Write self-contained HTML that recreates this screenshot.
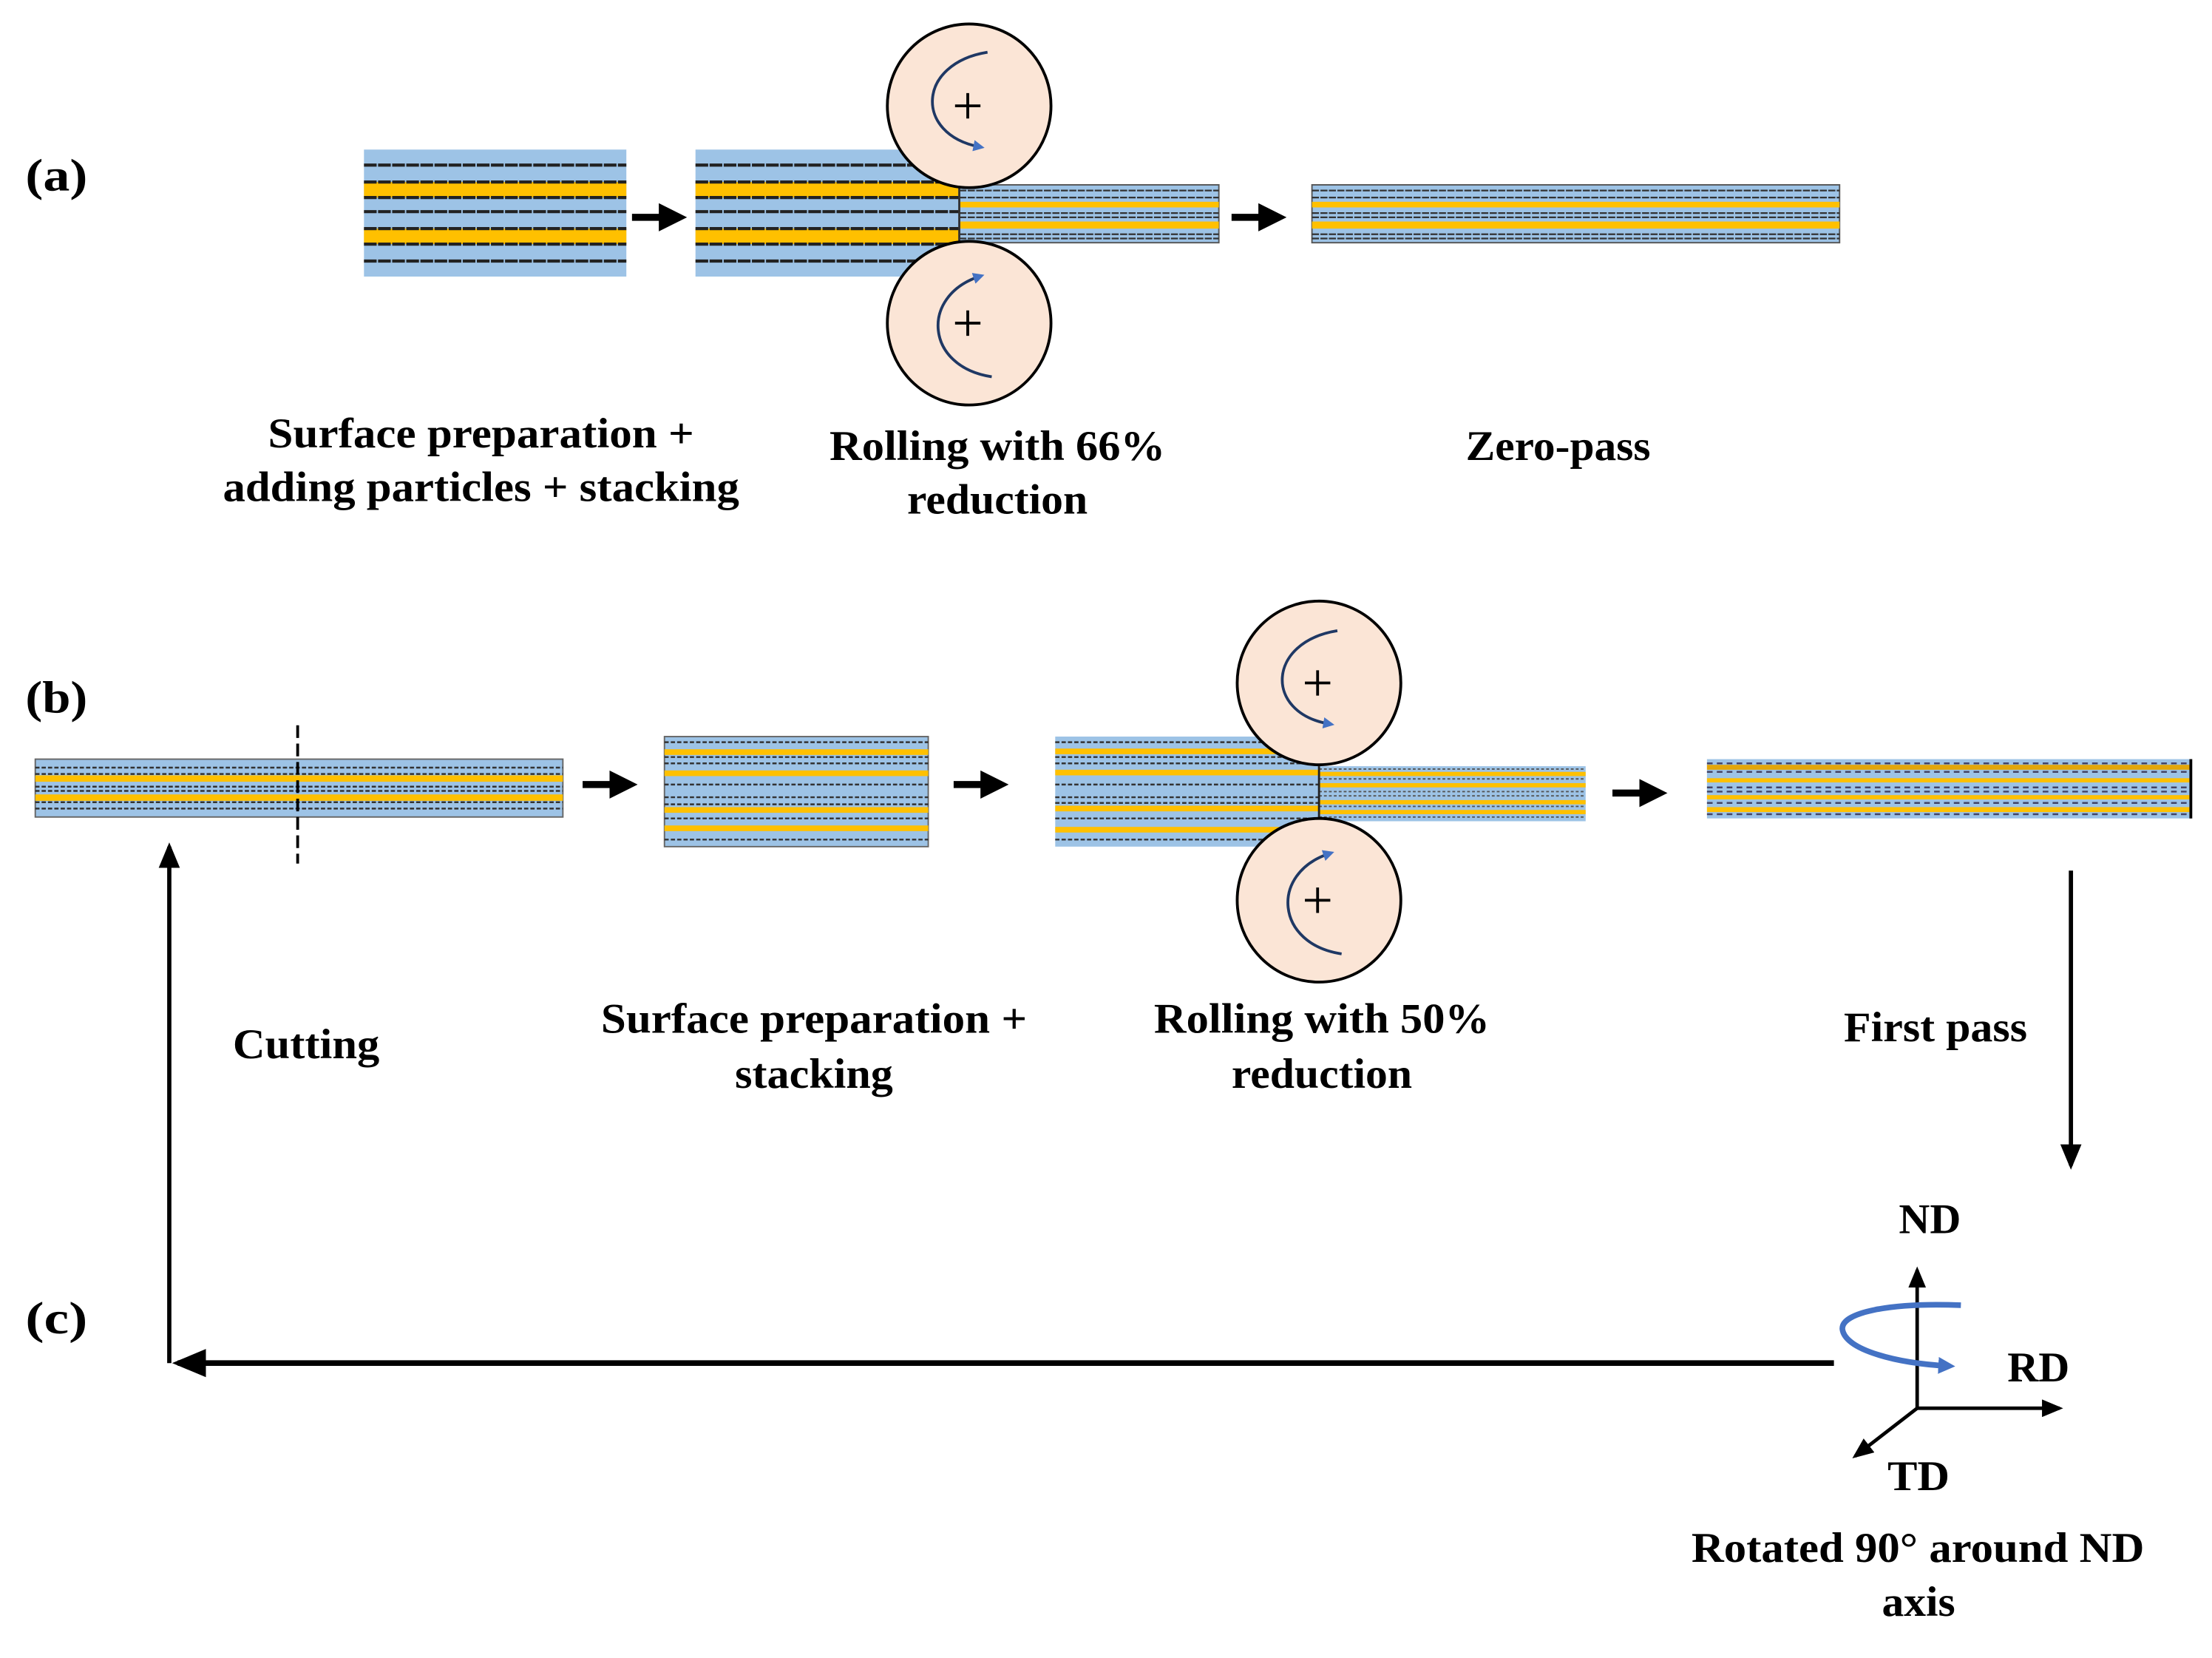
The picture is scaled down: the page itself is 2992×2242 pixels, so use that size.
<!DOCTYPE html>
<html><head><meta charset="utf-8"><style>
html,body{margin:0;padding:0;background:#fff;}
svg{display:block;}
text{font-family:"Liberation Serif","DejaVu Serif",serif;font-weight:bold;fill:#000;}
</style></head><body>
<svg width="2992" height="2242" viewBox="0 0 1568 1175" preserveAspectRatio="none" xmlns="http://www.w3.org/2000/svg">
<defs>
<marker id="ah" markerWidth="4" markerHeight="4" refX="3" refY="2" orient="auto" markerUnits="strokeWidth"><path d="M0,0 L4,2 L0,4 z" fill="#000"/></marker>
<marker id="ah2" markerWidth="6" markerHeight="5" refX="5" refY="2.5" orient="auto" markerUnits="strokeWidth"><path d="M0,0 L6,2.5 L0,5 z" fill="#000"/></marker>
<marker id="bh" markerWidth="4" markerHeight="4" refX="2" refY="2" orient="auto" markerUnits="strokeWidth"><path d="M0,0 L4,2 L0,4 z" fill="#4472c4"/></marker>
<marker id="bh2" markerWidth="3" markerHeight="3" refX="1.5" refY="1.5" orient="auto" markerUnits="strokeWidth"><path d="M0,0 L3,1.5 L0,3 z" fill="#4472c4"/></marker>
</defs>

<text x="18" y="135" font-size="32" textLength="44" lengthAdjust="spacingAndGlyphs">(a)</text>
<text x="18" y="505" font-size="32" textLength="44" lengthAdjust="spacingAndGlyphs">(b)</text>
<text x="18" y="945" font-size="32" textLength="44" lengthAdjust="spacingAndGlyphs">(c)</text>

<!-- (a) stack 1 -->
<g>
<rect x="258" y="106" width="186" height="90" fill="#9dc3e6"/>
<rect x="258" y="129" width="186" height="11" fill="#ffc000"/>
<rect x="258" y="162" width="186" height="11" fill="#ffc000"/>
<g stroke="#222" stroke-width="2.2" stroke-dasharray="9 1">
<line x1="258" y1="117" x2="444" y2="117"/><line x1="258" y1="129" x2="444" y2="129"/><line x1="258" y1="140" x2="444" y2="140"/>
<line x1="258" y1="150" x2="444" y2="150"/><line x1="258" y1="162" x2="444" y2="162"/><line x1="258" y1="173" x2="444" y2="173"/><line x1="258" y1="185" x2="444" y2="185"/>
</g></g>
<line x1="448" y1="154" x2="482" y2="154" stroke="#000" stroke-width="5" marker-end="url(#ah)"/>

<!-- (a) stack 2 -->
<g>
<rect x="493" y="106" width="187" height="90" fill="#9dc3e6"/>
<rect x="493" y="129" width="187" height="11" fill="#ffc000"/>
<rect x="493" y="162" width="187" height="11" fill="#ffc000"/>
<g stroke="#222" stroke-width="2.2" stroke-dasharray="9 1">
<line x1="493" y1="117" x2="680" y2="117"/><line x1="493" y1="129" x2="680" y2="129"/><line x1="493" y1="140" x2="680" y2="140"/>
<line x1="493" y1="150" x2="680" y2="150"/><line x1="493" y1="162" x2="680" y2="162"/><line x1="493" y1="173" x2="680" y2="173"/><line x1="493" y1="185" x2="680" y2="185"/>
</g>
<rect x="680" y="131" width="184" height="41" fill="#9dc3e6" stroke="#555" stroke-width="1"/>
<rect x="680" y="143" width="184" height="4" fill="#ffc000"/>
<rect x="680" y="157" width="184" height="5" fill="#ffc000"/>
<g stroke="#333" stroke-width="1.2" stroke-dasharray="5 1">
<line x1="680" y1="135" x2="864" y2="135"/><line x1="680" y1="140" x2="864" y2="140"/><line x1="680" y1="151" x2="864" y2="151"/>
<line x1="680" y1="154" x2="864" y2="154"/><line x1="680" y1="166" x2="864" y2="166"/><line x1="680" y1="169" x2="864" y2="169"/>
</g>
<line x1="680" y1="131" x2="680" y2="172" stroke="#333" stroke-width="1.5"/>
</g>
<circle cx="687" cy="75" r="58" fill="#fbe5d6" stroke="#000" stroke-width="2"/>
<circle cx="687" cy="229" r="58" fill="#fbe5d6" stroke="#000" stroke-width="2"/>
<path d="M686,66 v18 M677,75 h18 M686,220 v18 M677,229 h18" stroke="#000" stroke-width="2"/>
<path d="M700,37 C650,45 648,95 694,104" fill="none" stroke="#1f3864" stroke-width="2" marker-end="url(#bh)"/>
<path d="M703,267 C656,260 652,210 694,196" fill="none" stroke="#1f3864" stroke-width="2" marker-end="url(#bh)"/>

<line x1="873" y1="154" x2="907" y2="154" stroke="#000" stroke-width="5" marker-end="url(#ah)"/>
<g>
<rect x="930" y="131" width="374" height="41" fill="#9dc3e6" stroke="#555" stroke-width="1"/>
<rect x="930" y="143" width="374" height="4" fill="#ffc000"/>
<rect x="930" y="157" width="374" height="5" fill="#ffc000"/>
<g stroke="#333" stroke-width="1.2" stroke-dasharray="5 1">
<line x1="930" y1="135" x2="1304" y2="135"/><line x1="930" y1="140" x2="1304" y2="140"/><line x1="930" y1="151" x2="1304" y2="151"/>
<line x1="930" y1="154" x2="1304" y2="154"/><line x1="930" y1="166" x2="1304" y2="166"/><line x1="930" y1="169" x2="1304" y2="169"/>
</g></g>

<text x="190" y="317" font-size="30" textLength="302" lengthAdjust="spacingAndGlyphs">Surface preparation +</text>
<text x="158" y="355" font-size="30" textLength="366" lengthAdjust="spacingAndGlyphs">adding particles + stacking</text>
<text x="588" y="326" font-size="30" textLength="238" lengthAdjust="spacingAndGlyphs">Rolling with 66%</text>
<text x="643" y="364" font-size="30" textLength="128" lengthAdjust="spacingAndGlyphs">reduction</text>
<text x="1039" y="326" font-size="30" textLength="131" lengthAdjust="spacingAndGlyphs">Zero-pass</text>

<!-- (b) strip 1 -->
<g>
<rect x="25" y="538" width="374" height="41" fill="#9dc3e6" stroke="#666" stroke-width="1"/>
<rect x="25" y="549.5" width="374" height="4.5" fill="#ffc000"/>
<rect x="25" y="563" width="374" height="4.5" fill="#ffc000"/>
<g stroke="#333" stroke-width="1.3" stroke-dasharray="3 1.5">
<line x1="25" y1="544" x2="399" y2="544"/><line x1="25" y1="548.5" x2="399" y2="548.5"/><line x1="25" y1="557.5" x2="399" y2="557.5"/>
<line x1="25" y1="560.5" x2="399" y2="560.5"/><line x1="25" y1="568.5" x2="399" y2="568.5"/><line x1="25" y1="573" x2="399" y2="573"/>
</g></g>
<line x1="211" y1="514" x2="211" y2="612" stroke="#000" stroke-width="2" stroke-dasharray="9 4"/>
<line x1="413" y1="556" x2="447" y2="556" stroke="#000" stroke-width="5" marker-end="url(#ah)"/>

<g>
<rect x="471" y="522" width="187" height="78" fill="#9dc3e6" stroke="#666" stroke-width="1"/>
<rect x="471" y="531" width="187" height="4" fill="#ffc000"/>
<rect x="471" y="546" width="187" height="4" fill="#ffc000"/>
<rect x="471" y="572" width="187" height="4" fill="#ffc000"/>
<rect x="471" y="585" width="187" height="4" fill="#ffc000"/>
<g stroke="#333" stroke-width="1.3" stroke-dasharray="3 1.5">
<line x1="471" y1="526" x2="658" y2="526"/><line x1="471" y1="536.5" x2="658" y2="536.5"/><line x1="471" y1="541" x2="658" y2="541"/>
<line x1="471" y1="556" x2="658" y2="556"/><line x1="471" y1="565" x2="658" y2="565"/><line x1="471" y1="570" x2="658" y2="570"/>
<line x1="471" y1="580" x2="658" y2="580"/><line x1="471" y1="595" x2="658" y2="595"/>
</g></g>
<line x1="676" y1="556" x2="710" y2="556" stroke="#000" stroke-width="5" marker-end="url(#ah)"/>

<g>
<rect x="748" y="522" width="187" height="78" fill="#9dc3e6"/>
<rect x="748" y="530.5" width="187" height="4" fill="#ffc000"/>
<rect x="748" y="545.5" width="187" height="4" fill="#ffc000"/>
<rect x="748" y="571" width="187" height="4" fill="#ffc000"/>
<rect x="748" y="586" width="187" height="4" fill="#ffc000"/>
<g stroke="#333" stroke-width="1.3" stroke-dasharray="3 1.5">
<line x1="748" y1="526" x2="935" y2="526"/><line x1="748" y1="536.5" x2="935" y2="536.5"/><line x1="748" y1="541" x2="935" y2="541"/>
<line x1="748" y1="556" x2="935" y2="556"/><line x1="748" y1="565" x2="935" y2="565"/><line x1="748" y1="569" x2="935" y2="569"/>
<line x1="748" y1="580" x2="935" y2="580"/><line x1="748" y1="595" x2="935" y2="595"/>
</g>
<rect x="935" y="543" width="189" height="39" fill="#9dc3e6"/>
<rect x="935" y="547" width="189" height="3" fill="#ffc000"/>
<rect x="935" y="555" width="189" height="3" fill="#ffc000"/>
<rect x="935" y="567" width="189" height="3" fill="#ffc000"/>
<rect x="935" y="574" width="189" height="3" fill="#ffc000"/>
<g stroke="#555" stroke-width="1" stroke-dasharray="2 1.5">
<line x1="935" y1="545" x2="1124" y2="545"/><line x1="935" y1="552" x2="1124" y2="552"/><line x1="935" y1="561" x2="1124" y2="561"/>
<line x1="935" y1="564" x2="1124" y2="564"/><line x1="935" y1="571.5" x2="1124" y2="571.5"/><line x1="935" y1="579" x2="1124" y2="579"/>
</g>
<line x1="935" y1="543" x2="935" y2="582" stroke="#222" stroke-width="1.5"/>
</g>
<circle cx="935" cy="484" r="58" fill="#fbe5d6" stroke="#000" stroke-width="2"/>
<circle cx="935" cy="638" r="58" fill="#fbe5d6" stroke="#000" stroke-width="2"/>
<path d="M934,475 v18 M925,484 h18 M934,629 v18 M925,638 h18" stroke="#000" stroke-width="2"/>
<path d="M948,447 C898,455 896,505 942,513" fill="none" stroke="#1f3864" stroke-width="2" marker-end="url(#bh)"/>
<path d="M951,676 C904,669 900,619 942,605" fill="none" stroke="#1f3864" stroke-width="2" marker-end="url(#bh)"/>

<line x1="1143" y1="562" x2="1177" y2="562" stroke="#000" stroke-width="5" marker-end="url(#ah)"/>

<g>
<rect x="1210" y="538" width="343" height="42" fill="#9dc3e6"/>
<rect x="1210" y="542" width="343" height="3.5" fill="#e3a60a"/>
<rect x="1210" y="551.5" width="343" height="3" fill="#ffc000"/>
<rect x="1210" y="563.5" width="343" height="3" fill="#ffc000"/>
<rect x="1210" y="572" width="343" height="3.5" fill="#ffc000"/>
<g stroke="#446" stroke-width="1.3" stroke-dasharray="4 3">
<line x1="1210" y1="541" x2="1553" y2="541"/><line x1="1210" y1="547" x2="1553" y2="547"/><line x1="1210" y1="558" x2="1553" y2="558"/>
<line x1="1210" y1="561" x2="1553" y2="561"/><line x1="1210" y1="569" x2="1553" y2="569"/><line x1="1210" y1="577" x2="1553" y2="577"/>
</g>
<line x1="1553" y1="538" x2="1553" y2="580" stroke="#000" stroke-width="2"/>
</g>

<text x="165" y="750" font-size="30" textLength="104" lengthAdjust="spacingAndGlyphs">Cutting</text>
<text x="426" y="732" font-size="30" textLength="302" lengthAdjust="spacingAndGlyphs">Surface preparation +</text>
<text x="521" y="771" font-size="30" textLength="112" lengthAdjust="spacingAndGlyphs">stacking</text>
<text x="818" y="732" font-size="30" textLength="238" lengthAdjust="spacingAndGlyphs">Rolling with 50%</text>
<text x="873" y="771" font-size="30" textLength="128" lengthAdjust="spacingAndGlyphs">reduction</text>
<text x="1307" y="738" font-size="30" textLength="130" lengthAdjust="spacingAndGlyphs">First pass</text>

<line x1="1468" y1="617" x2="1468" y2="826" stroke="#000" stroke-width="3" marker-end="url(#ah2)"/>
<line x1="1300" y1="966" x2="126" y2="966" stroke="#000" stroke-width="4" marker-end="url(#ah2)"/>
<line x1="120" y1="966" x2="120" y2="600" stroke="#000" stroke-width="3" marker-end="url(#ah2)"/>

<line x1="1359" y1="998" x2="1359" y2="900" stroke="#000" stroke-width="2.5" marker-end="url(#ah2)"/>
<line x1="1359" y1="998" x2="1460" y2="998" stroke="#000" stroke-width="2.5" marker-end="url(#ah2)"/>
<line x1="1359" y1="998" x2="1315" y2="1032" stroke="#000" stroke-width="2.5" marker-end="url(#ah2)"/>
<path d="M1390,925 C1340,923 1305,930 1306,942 C1308,957 1345,966 1380,968" fill="none" stroke="#4472c4" stroke-width="4" marker-end="url(#bh2)"/>
<text x="1346" y="874" font-size="30" textLength="44" lengthAdjust="spacingAndGlyphs">ND</text>
<text x="1423" y="979" font-size="30" textLength="44" lengthAdjust="spacingAndGlyphs">RD</text>
<text x="1338" y="1056" font-size="30" textLength="44" lengthAdjust="spacingAndGlyphs">TD</text>
<text x="1199" y="1107" font-size="30" textLength="321" lengthAdjust="spacingAndGlyphs">Rotated 90° around ND</text>
<text x="1334" y="1145" font-size="30" textLength="52" lengthAdjust="spacingAndGlyphs">axis</text>
</svg>
</body></html>
